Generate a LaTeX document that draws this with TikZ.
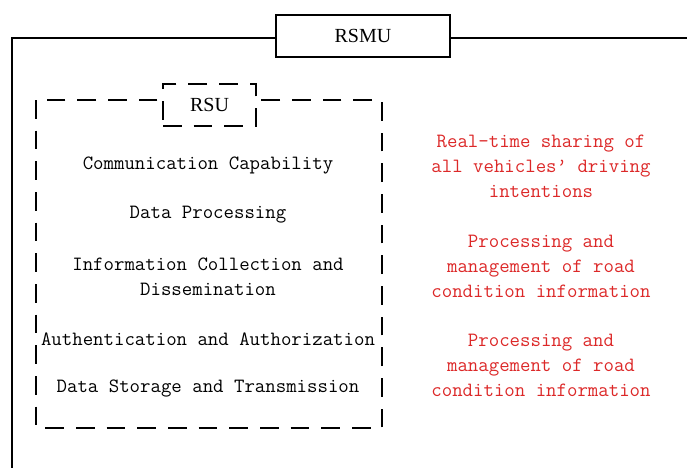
\documentclass[tikz,border=0pt]{standalone}
\usepackage{fontspec}
\setmainfont{Liberation Serif}
\definecolor{notered}{RGB}{220,40,40}
\begin{document}
\begin{tikzpicture}[x=0.75pt,y=-0.75pt,
    item/.style={font=\fontsize{15.2}{18.75}\selectfont\ttfamily, align=center},
    note/.style={item, text=notered},
    dashbox/.style={draw, line width=0.9pt, dash pattern=on 14pt off 9pt},
    title/.style={fill=white, font=\fontsize{15}{16}\selectfont, inner sep=0pt}]
    \useasboundingbox (0,0) rectangle (687,468);
    % outer frame of the RSMU
    \draw[line width=1.8pt] (12,470) -- (12,38) -- (690,38);
    \node[title, draw, line width=1.5pt, minimum width=130.5pt, minimum height=31.5pt] (rsmu) at (363,35.5) {RSMU};
    % RSU block
    \draw[dashbox] (36,100) rectangle (382,428);
    \node[title, dashbox, minimum width=69.75pt, minimum height=31.5pt] (rsu) at (209.5,105) {RSU};
    \node[item] (comm) at (208,165) {Communication Capability};
    \node[item] (proc) at (208,215) {Data Processing};
    \node[item] (coll) at (208,276.5) {Information Collection and\\Dissemination};
    \node[item] (auth) at (208,339) {Authentication and Authorization};
    \node[item] (stor) at (208,389) {Data Storage and Transmission};
    % functions of the RSMU
    \node[note] (share) at (541,166) {Real-time sharing of\\all vehicles’ driving\\intentions};
    \node[note] (road) at (541,266) {Processing and\\management of road\\condition information};
    \node[note] (roadb) at (541,365) {Processing and\\management of road\\condition information};
\end{tikzpicture}
\end{document}
